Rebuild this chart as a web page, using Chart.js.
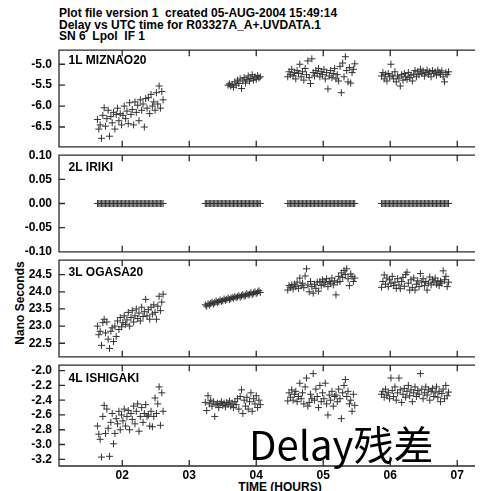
<!DOCTYPE html>
<html>
<head>
<meta charset="utf-8">
<script src="https://cdn.jsdelivr.net/npm/chart.js@4.4.1/dist/chart.umd.min.js"></script>
<style>
  html, body { margin: 0; padding: 0; background: #fff; }
  #wrap { position: relative; width: 480px; height: 491px; overflow: hidden; background: #fff; }
  #wrap canvas { position: absolute; left: 0; }
  .txt { position: absolute; font-family: "Liberation Sans", Arial, sans-serif; font-weight: bold;
         font-size: 12px; color: #000; white-space: pre; }
</style>
</head>
<body>
<div id="wrap">
  <div class="txt" style="left:59px; top:8px; line-height:11.5px;">Plot file version 1  created 05-AUG-2004 15:49:14
Delay vs UTC time for R03327A_A+.UVDATA.1
SN 6  Lpol  IF 1</div>
  <div class="txt" style="left:19.5px; top:302.5px; line-height:12px; transform:translate(-50%,-50%) rotate(-90deg);">Nano Seconds</div>
  <div class="txt" style="left:280px; top:480.5px; line-height:12px; transform:translateX(-50%);">TIME (HOURS)</div>
  <div style="position:absolute; left:249px; top:422.5px; z-index:5; font-family:'Noto Sans CJK SC','Noto Sans',sans-serif; font-size:40px; line-height:40px; color:#000; white-space:pre;">Delay残差</div>
</div>
<script>
// ─── Data: UTC hours per scan block ───────────────────────────────
const t1 = [1.63,1.65,1.67,1.69,1.71,1.73,1.75,1.77,1.79,1.81,
  1.83,1.85,1.87,1.89,1.91,1.93,1.95,1.97,1.99,2.01,
  2.03,2.05,2.07,2.09,2.11,2.13,2.15,2.17,2.19,2.21,
  2.23,2.25,2.27,2.29,2.31,2.33,2.35,2.37,2.39,2.41,
  2.43,2.45,2.47,2.49,2.51,2.53,2.55,2.57,2.59,2.61];
const t2 = [3.24,3.26,3.28,3.30,3.32,3.34,3.36,3.38,3.40,3.42,
  3.44,3.46,3.48,3.50,3.52,3.54,3.56,3.58,3.60,3.62,
  3.64,3.66,3.68,3.70,3.72,3.74,3.76,3.78,3.80,3.82,
  3.84,3.86,3.88,3.90,3.92,3.94,3.96,3.98,4.00,4.02,
  4.04,4.06];
const t3 = [4.47,4.49,4.51,4.53,4.55,4.57,4.59,4.61,4.63,4.65,
  4.67,4.69,4.71,4.73,4.75,4.77,4.79,4.81,4.83,4.85,
  4.87,4.89,4.91,4.93,4.95,4.97,4.99,5.01,5.03,5.05,
  5.07,5.09,5.11,5.13,5.15,5.17,5.19,5.21,5.23,5.25,
  5.27,5.29,5.31,5.33,5.35,5.37,5.39,5.41,5.43,5.45,
  5.47];
const t4 = [5.87,5.89,5.91,5.93,5.95,5.97,5.99,6.01,6.03,6.05,
  6.07,6.09,6.11,6.13,6.15,6.17,6.19,6.21,6.23,6.25,
  6.27,6.29,6.31,6.33,6.35,6.37,6.39,6.41,6.43,6.45,
  6.47,6.49,6.51,6.53,6.55,6.57,6.59,6.61,6.63,6.65,
  6.67,6.69,6.71,6.73,6.75,6.77,6.79,6.81,6.83,6.85,
  6.87];

// ─── Delays (ns) per antenna, one array per block ────────────────
const miz1 = [-6.32,-6.55,-6.45,-6.77,-6.22,-6.04,-6.48,-6.30,-6.10,-6.72,
  -6.25,-6.40,-6.15,-6.55,-6.20,-6.05,-6.35,-6.18,-6.45,-6.22,
  -6.00,-6.30,-6.12,-6.42,-5.92,-6.20,-6.08,-6.45,-5.90,-6.15,
  -5.98,-6.35,-5.85,-6.10,-5.95,-6.50,-5.82,-6.05,-5.80,-6.18,
  -5.72,-6.00,-5.90,-6.10,-5.68,-5.95,-5.52,-6.05,-5.65,-5.85];
const miz2 = [null,null,null,null,null,null,null,null,null,null,
  null,null,null,null,null,null,null,-5.50,-5.47,-5.52,
  -5.48,-5.55,-5.42,-5.50,-5.38,-5.46,-5.35,-5.58,-5.40,-5.32,
  -5.45,-5.36,-5.28,-5.40,-5.34,-5.25,-5.38,-5.30,-5.36,-5.27,
  -5.33,-5.30];
const miz3 = [-5.30,-5.18,-5.25,-5.12,-5.28,-5.20,-5.35,-5.15,-5.22,-5.00,
  -5.30,-5.18,-5.38,-5.10,-5.25,-4.92,-5.32,-5.46,-4.87,-5.20,
  -5.28,-5.15,-5.22,-5.10,-5.30,-5.18,-5.25,-5.12,-5.35,-5.20,
  -5.59,-5.28,-5.15,-5.32,-5.22,-5.10,-5.35,-5.25,-5.40,-5.05,
  -5.68,-4.97,-5.30,-4.82,-5.15,-5.42,-5.08,-5.45,-5.20,-5.12,
  -4.99];
const miz4 = [-5.28,-5.20,-5.35,-5.24,-5.40,-5.22,-5.30,-5.00,-5.26,-5.35,
  -5.18,-5.42,-5.28,-5.33,-5.52,-5.25,-5.38,-5.22,-5.30,-5.36,
  -5.20,-5.32,-5.26,-5.40,-5.24,-5.15,-5.30,-5.18,-5.25,-5.12,
  -5.22,-5.16,-5.28,-5.20,-5.14,-5.24,-5.18,-5.30,-5.15,-5.22,
  -5.18,-5.26,-5.14,-5.20,-5.24,-5.16,-5.30,-5.42,-5.20,-5.25,
  -5.18];

const iri1 = [0,0,0,0,0,0,0,0,0,0, 0,0,0,0,0,0,0,0,0,0, 0,0,0,0,0,0,0,0,0,0,
  0,0,0,0,0,0,0,0,0,0, 0,0,0,0,0,0,0,0,0,0];
const iri2 = [0,0,0,0,0,0,0,0,0,0, 0,0,0,0,0,0,0,0,0,0, 0,0,0,0,0,0,0,0,0,0,
  0,0,0,0,0,0,0,0,0,0, 0,0];
const iri3 = [0,0,0,0,0,0,0,0,0,0, 0,0,0,0,0,0,0,0,0,0, 0,0,0,0,0,0,0,0,0,0,
  0,0,0,0,0,0,0,0,0,0, 0,0,0,0,0,0,0,0,0,0, 0];
const iri4 = [0,0,0,0,0,0,0,0,0,0, 0,0,0,0,0,0,0,0,0,0, 0,0,0,0,0,0,0,0,0,0,
  0,0,0,0,0,0,0,0,0,0, 0,0,0,0,0,0,0,0,0,0, 0];

const oga1 = [23.00,22.75,22.85,22.44,23.10,23.20,22.80,23.12,22.62,22.35,
  22.85,22.95,22.55,23.00,22.70,23.15,22.90,23.25,22.98,23.10,
  23.30,23.05,23.18,23.40,23.00,23.25,23.45,23.12,23.30,23.50,
  23.22,23.38,23.15,23.55,23.28,23.42,23.78,23.30,23.48,23.20,
  23.55,23.35,23.62,23.40,23.20,23.58,23.87,23.45,23.70,23.93];
const oga2 = [23.62,23.58,23.65,23.61,23.66,23.70,23.64,23.68,23.73,23.69,
  23.71,23.76,23.72,23.74,23.79,23.75,23.78,23.82,23.77,23.80,
  23.84,23.81,23.86,23.83,23.85,23.89,23.84,23.88,23.92,23.87,
  23.90,23.94,23.91,23.93,23.97,23.92,23.96,24.00,23.95,23.99,
  24.03,23.98];
const oga3 = [24.05,24.18,24.12,24.20,24.08,24.22,24.15,24.28,24.10,24.40,
  24.18,24.25,24.12,24.46,24.67,24.20,24.00,24.30,24.15,23.96,
  24.22,24.10,24.28,24.02,24.30,24.18,24.35,24.22,24.28,24.38,
  24.15,24.30,24.25,24.40,24.20,24.32,23.91,24.28,24.45,24.30,
  24.55,24.42,24.62,24.50,24.67,24.38,24.18,24.52,24.45,24.30,
  24.40];
const oga4 = [24.13,24.30,24.49,24.22,24.40,24.15,24.35,24.25,24.45,24.18,
  24.28,24.10,24.38,24.20,24.09,24.30,24.42,24.16,24.50,24.57,
  24.25,24.05,24.35,24.12,24.40,24.05,24.22,24.32,24.15,24.53,
  24.28,24.38,24.18,24.30,24.05,24.25,24.43,24.20,24.35,24.28,
  24.40,24.22,24.32,24.18,24.30,24.25,24.61,24.35,24.45,24.15,
  24.28];

const ish1 = [-2.75,-2.86,-2.93,-3.17,-2.62,-2.47,-2.85,-2.52,-2.78,-3.16,
  -2.70,-2.58,-2.99,-2.85,-2.65,-2.72,-2.55,-2.80,-2.60,-2.68,
  -2.52,-2.75,-2.62,-2.54,-2.80,-2.58,-2.66,-2.48,-2.72,-2.55,
  -2.45,-2.82,-2.62,-2.50,-2.70,-2.58,-2.46,-2.62,-2.60,-2.75,
  -2.55,-2.76,-2.62,-2.37,-2.58,-2.45,-2.22,-2.74,-2.30,-2.55];
const ish2 = [-2.43,-2.54,-2.34,-2.45,-2.40,-2.48,-2.42,-2.62,-2.46,-2.44,
  -2.50,-2.45,-2.42,-2.47,-2.44,-2.49,-2.43,-2.46,-2.41,-2.48,
  -2.44,-2.50,-2.42,-2.46,-2.38,-2.52,-2.35,-2.26,-2.58,-2.40,
  -2.48,-2.36,-2.52,-2.42,-2.30,-2.55,-2.38,-2.45,-2.34,-2.50,
  -2.40,-2.46];
const ish3 = [-2.41,-2.30,-2.36,-2.26,-2.40,-2.32,-2.28,-2.42,-2.35,-2.17,
  -2.38,-2.30,-2.45,-2.22,-2.10,-2.48,-2.43,-2.32,-2.38,-2.04,
  -2.40,-2.25,-2.35,-2.50,-2.20,-2.42,-2.30,-2.38,-2.17,-2.45,
  -2.60,-2.33,-2.40,-2.28,-2.48,-2.35,-2.33,-2.42,-2.25,-2.38,
  -2.65,-2.30,-2.20,-2.12,-2.35,-2.28,-2.45,-2.40,-2.55,-2.32,
  -2.47];
const ish4 = [-2.32,-2.28,-2.36,-2.25,-2.33,-2.30,-2.38,-2.10,-2.27,-2.35,
  -2.22,-2.40,-2.30,-2.10,-2.26,-2.43,-2.32,-2.24,-2.36,-2.28,
  -2.20,-2.34,-2.26,-2.42,-2.30,-2.22,-2.35,-2.27,-2.32,-2.04,
  -2.25,-2.38,-2.30,-2.22,-2.33,-2.26,-2.40,-2.28,-2.24,-2.35,
  -2.30,-2.22,-2.36,-2.28,-2.42,-2.31,-2.25,-2.38,-2.20,-2.34,
  -2.29];

// ─── Axis ticks ───────────────────────────────────────────────────
const hourTicks = [2, 3, 4, 5, 6, 7];
const mizTicks = [-5.0, -5.5, -6.0, -6.5];
const iriTicks = [0.10, 0.05, 0.00, -0.05, -0.10];
const ogaTicks = [24.5, 24.0, 23.5, 23.0, 22.5];
const ishTicks = [-2.0, -2.2, -2.4, -2.6, -2.8, -3.0, -3.2];

const times = [t1, t2, t3, t4];
const FONT = { family: '"Liberation Sans", Arial, sans-serif', size: 12, weight: 'bold' };
const X_MIN = 1.056, X_MAX = 7.265;

// ─── Frame, inward ticks and panel label ─────────────────────────
const framePlugin = {
  id: 'frame',
  afterDatasetsDraw(chart, args, o) {
    const { ctx, chartArea: a, scales: { x, y } } = chart;
    ctx.save();
    ctx.strokeStyle = '#2a2a2a';
    ctx.lineWidth = 1.3;
    ctx.beginPath();
    ctx.moveTo(a.right, a.top); ctx.lineTo(a.left, a.top);
    ctx.lineTo(a.left, a.bottom); ctx.lineTo(a.right, a.bottom);
    hourTicks.forEach(h => {
      const px = x.getPixelForValue(h);
      ctx.moveTo(px, a.top); ctx.lineTo(px, a.top + 6);
      ctx.moveTo(px, a.bottom); ctx.lineTo(px, a.bottom - 6);
    });
    o.yTicks.forEach(v => {
      const py = y.getPixelForValue(v);
      ctx.moveTo(a.left, py); ctx.lineTo(a.left + 6, py);
    });
    ctx.stroke();
    ctx.fillStyle = '#000';
    ctx.font = 'bold 12px "Liberation Sans", Arial, sans-serif';
    ctx.fillText(o.label, a.left + 9.5, a.top + o.dy);
    ctx.restore();
  }
};

function mkPanel(p) {
  const wrap = document.getElementById('wrap');
  const cv = document.createElement('canvas');
  cv.width = 480; cv.height = p.h;
  cv.style.top = p.top + 'px';
  wrap.appendChild(cv);

  const pts = [];
  p.segs.forEach((vals, s) => vals.forEach((v, i) => {
    if (v !== null) pts.push({ x: times[s][i], y: v });
  }));

  return new Chart(cv, {
    type: 'scatter',
    data: {
      datasets: [{
        data: pts,
        pointStyle: 'cross',
        pointRadius: 3.5,
        pointBorderWidth: 1,
        pointBorderColor: '#333',
        pointBackgroundColor: '#333',
      }],
    },
    options: {
      responsive: false,
      animation: false,
      events: [],
      layout: { padding: { top: p.padT, bottom: p.padB, left: 0, right: 0 } },
      plugins: {
        legend: { display: false },
        tooltip: { enabled: false },
        frame: { label: p.label, dy: p.dy, yTicks: p.yTicks },
      },
      scales: {
        x: {
          type: 'linear', min: X_MIN, max: X_MAX,
          display: p.showX,
          afterBuildTicks: s => { s.ticks = hourTicks.map(v => ({ value: v })); },
          afterFit: s => { if (p.showX) s.height = 25; },
          grid: { display: false, drawTicks: false },
          border: { display: false },
          ticks: {
            font: FONT, color: '#000', padding: 2, maxRotation: 0, autoSkip: false,
            callback: v => String(v).padStart(2, '0'),
          },
        },
        y: {
          type: 'linear', min: p.min, max: p.max,
          afterBuildTicks: s => { s.ticks = p.yTicks.map(v => ({ value: v })); },
          afterFit: s => { s.width = 59; },
          grid: { display: false, drawTicks: false },
          border: { display: false },
          ticks: { font: FONT, color: '#000', padding: 7, autoSkip: false, callback: v => v.toFixed(p.dec) },
        },
      },
    },
    plugins: [framePlugin],
  });
}

mkPanel({ label: '1L MIZNAO20', segs: [miz1, miz2, miz3, miz4], yTicks: mizTicks, dec: 1,
  min: -6.973, max: -4.664, top: 36, h: 125, padT: 12, padB: 10, dy: 13.5, showX: false });
mkPanel({ label: '2L IRIKI', segs: [iri1, iri2, iri3, iri4], yTicks: iriTicks, dec: 2,
  min: -0.10, max: 0.10, top: 141, h: 125, padT: 10, padB: 10, dy: 16, showX: false });
mkPanel({ label: '3L OGASA20', segs: [oga1, oga2, oga3, oga4], yTicks: ogaTicks, dec: 1,
  min: 22.106, max: 24.92, top: 246, h: 125, padT: 10, padB: 10, dy: 16, showX: false });
mkPanel({ label: '4L ISHIGAKI', segs: [ish1, ish2, ish3, ish4], yTicks: ishTicks, dec: 1,
  min: -3.291, max: -1.926, top: 351, h: 140, padT: 10, padB: 0, dy: 16.5, showX: true });
</script>
</body>
</html>
